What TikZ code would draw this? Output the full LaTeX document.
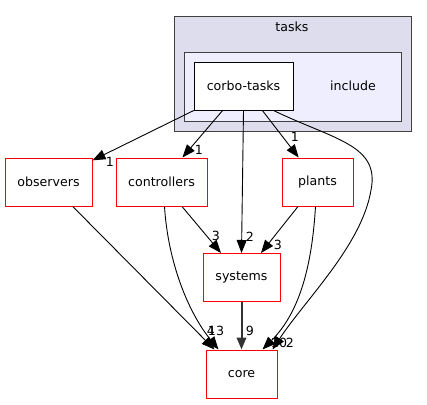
\documentclass[tikz,border=0pt]{standalone}
\usepackage{fontspec}
\setmainfont{DejaVu Sans}
\usetikzlibrary{arrows.meta,calc}
\definecolor{clusterA}{HTML}{DDDDEE}
\definecolor{clusterB}{HTML}{EEEEFF}
\definecolor{clusterline}{HTML}{404040}
\begin{document}
\begin{tikzpicture}[x=1pt,y=-1pt,
  every node/.style={font=\fontsize{12.6}{15}\selectfont, inner sep=0pt},
  dirbox/.style={draw=red, line width=1pt, fill=white, minimum height=48pt},
  edge/.style={draw=black, line width=0.9pt, -{Triangle[length=13pt,width=10pt]}},
  heavyedge/.style={draw=black!80, line width=2pt, -{Triangle[length=12pt,width=9.5pt]}},
  lbl/.style={font=\fontsize{12.6}{15}\selectfont}]
\useasboundingbox (0,0) rectangle (427,404);
% clusters
\draw[clusterline, line width=0.9pt, fill=clusterA] (174,16) rectangle (411,131);
\node (tasksl) at (292,27) {tasks};
\draw[clusterline, line width=0.9pt, fill=clusterB] (184,52) rectangle (401,121);
\node (incl) at (353,86) {include};
% nodes
\node[draw=black, line width=1pt, fill=white, minimum width=99pt, minimum height=48pt] (corbo) at (243.5,86) {corbo-tasks};
\node[dirbox, minimum width=87pt] (obs) at (48.5,182) {observers};
\node[dirbox, minimum width=91pt] (ctrl) at (161.5,182) {controllers};
\node[dirbox, minimum width=71pt] (plants) at (317.5,182) {plants};
\node[dirbox, minimum width=77pt] (sys) at (241.5,277.5) {systems};
\node[dirbox, minimum width=71pt] (core) at (241.5,374) {core};
% edges
\draw[edge] (corbo) -- (obs);
\draw[edge] (corbo) -- (ctrl);
\draw[edge] (corbo.south) -- (sys.north);
\draw[edge] (corbo) -- (plants);
\draw[edge] ($(corbo.south east)+(-20,0)$) .. controls (335,140) and (380,145) .. (371,190)
   .. controls (362,245) and (305,300) .. ($(core.north east)+(-5,0)$);
\draw[edge] (obs) -- ($(core.north west)+(9,0)$);
\draw[edge] ($(ctrl.south)+(3,0)$) .. controls (168,262) and (188,312) .. ($(core.north west)+(13,0)$);
\draw[edge] (ctrl) -- (sys);
\draw[edge] (plants) -- (sys);
\draw[edge] ($(plants.south)+(-2,0)$) .. controls (312,265) and (300,312) .. ($(core.north east)+(-15,0)$);
\draw[heavyedge] (sys) -- (core);
% labels
\node[lbl] (l1) at (110,162) {1};
\node[lbl] (l2) at (199,150) {1};
\node[lbl] (l3) at (295,137) {1};
\node[lbl] (l4) at (250,237) {2};
\node[lbl] (l5) at (216,236) {3};
\node[lbl] (l6) at (278,245) {3};
\node[lbl] (l7) at (250,331) {9};
\node[lbl] (l8) at (211,331) {4};
\node[lbl] (l9) at (216,331) {13};
\node[lbl] (l10) at (279,343) {10};
\node[lbl] (l11) at (290,343) {2};
\end{tikzpicture}
\end{document}
